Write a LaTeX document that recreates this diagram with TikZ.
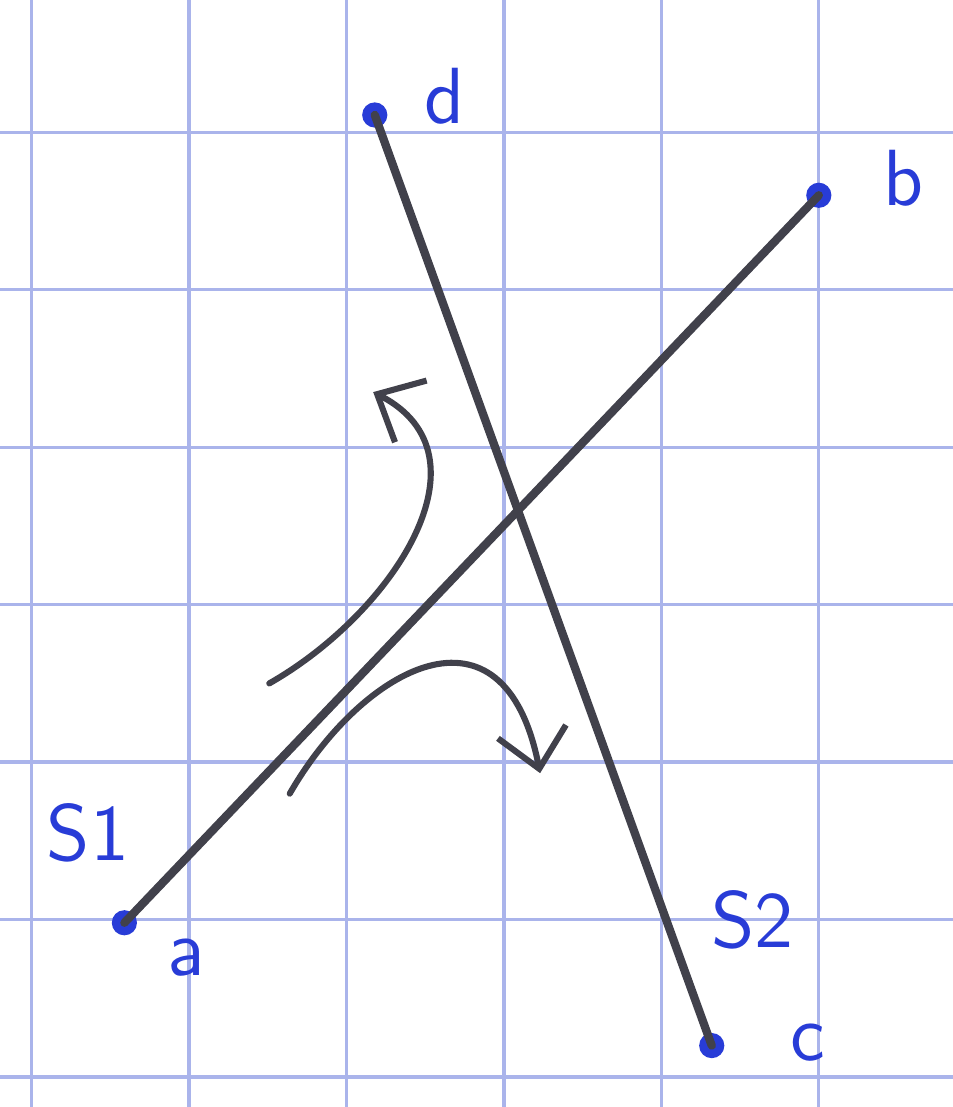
\documentclass[tikz,border=0pt]{standalone}
\usetikzlibrary{arrows.meta}
\definecolor{gridblue}{RGB}{170,180,235}
\definecolor{inkblue}{RGB}{40,60,215}
\definecolor{pencil}{RGB}{65,65,75}
\begin{document}
\begin{tikzpicture}[every node/.style={font=\Large\sffamily, text=inkblue},
    dot/.style={circle, fill=inkblue, inner sep=0pt, minimum size=0.16cm},
    seg/.style={pencil, line width=1.5pt, line cap=round},
    arr/.style={pencil, line width=1.1pt, line cap=round, -{Straight Barb[length=2.4mm, width=4.4mm]}}]
    \useasboundingbox (-0.2,-0.19) rectangle (5.85,6.84);
    \fill[white] (-0.2,-0.19) rectangle (5.85,6.84);
    \foreach \i in {0,...,5}{
        \draw[gridblue, line width=0.6pt] (\i,-0.19) -- (\i,6.84);
    }
    \foreach \j in {0,...,6}{
        \draw[gridblue, line width=0.6pt] (-0.2,\j) -- (5.85,\j);
    }
    \node[dot] (a) at (0.59,0.98) {};
    \node[dot] (b) at (5.00,5.60) {};
    \node[dot] (c) at (4.32,0.20) {};
    \node[dot] (d) at (2.18,6.11) {};
    \draw[seg] (a.center) -- (b.center);
    \draw[seg] (d.center) -- (c.center);
    \node (la) at (0.98,0.76) {a};
    \node (lb) at (5.54,5.71) {b};
    \node (lc) at (4.93,0.22) {c};
    \node (ld) at (2.62,6.23) {d};
    \node (s1) at (0.36,1.55) {S1};
    \node (s2) at (4.58,1.00) {S2};
    \coordinate (up0) at (1.51,2.50);
    \coordinate (up1) at (2.17,4.35);
    \coordinate (dn0) at (1.64,1.80);
    \coordinate (dn1) at (3.23,1.93);
    \draw[arr] (up0) .. controls (2.30,2.95) and (2.95,3.95) .. (up1);
    \draw[arr] (dn0) .. controls (2.10,2.60) and (3.00,3.10) .. (dn1);
\end{tikzpicture}
\end{document}
